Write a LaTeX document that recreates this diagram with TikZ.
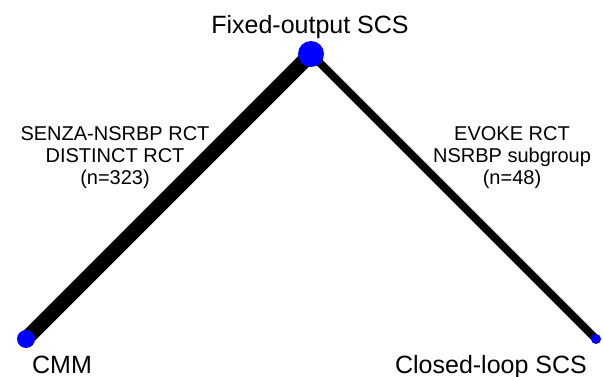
\documentclass[tikz,border=0pt]{standalone}
\usepackage{fontspec}
\setmainfont{Liberation Sans}
\pgfdeclarelayer{edges}
\pgfsetlayers{edges,main}

\begin{document}
\begin{tikzpicture}[x=1pt,y=-1pt,
    site/.style={circle,fill=blue,inner sep=0pt},
    sitename/.style={font=\fontsize{25}{30}\selectfont,inner sep=0pt,anchor=base},
    trials/.style={font=\fontsize{20}{22}\selectfont,inner sep=0pt,align=center,anchor=base}]
    \useasboundingbox (0,0) rectangle (603,377);
    % network nodes
    \node[site,minimum size=26pt] (fixed) at (311,54) {};
    \node[site,minimum size=18pt] (cmm) at (26,339) {};
    \node[site,minimum size=10pt] (closed) at (596,339) {};
    \node[sitename] (fixedlbl) at (310,34) {Fixed-output SCS};
    \node[sitename] (cmmlbl) at (62,373) {CMM};
    \node[sitename] (closedlbl) at (491,373) {Closed-loop SCS};
    % comparisons
    \begin{pgfonlayer}{edges}
      \draw[line width=15pt] (fixed.center) to (cmm.center);
      \draw[line width=8pt] (fixed.center) to (closed.center);
    \end{pgfonlayer}
    \node[trials] (leftlbl) at (115,185) {SENZA-NSRBP RCT\\DISTINCT RCT\\(n=323)};
    \node[trials] (rightlbl) at (512,185) {EVOKE RCT\\NSRBP subgroup\\(n=48)};
  \end{tikzpicture}
\end{document}
